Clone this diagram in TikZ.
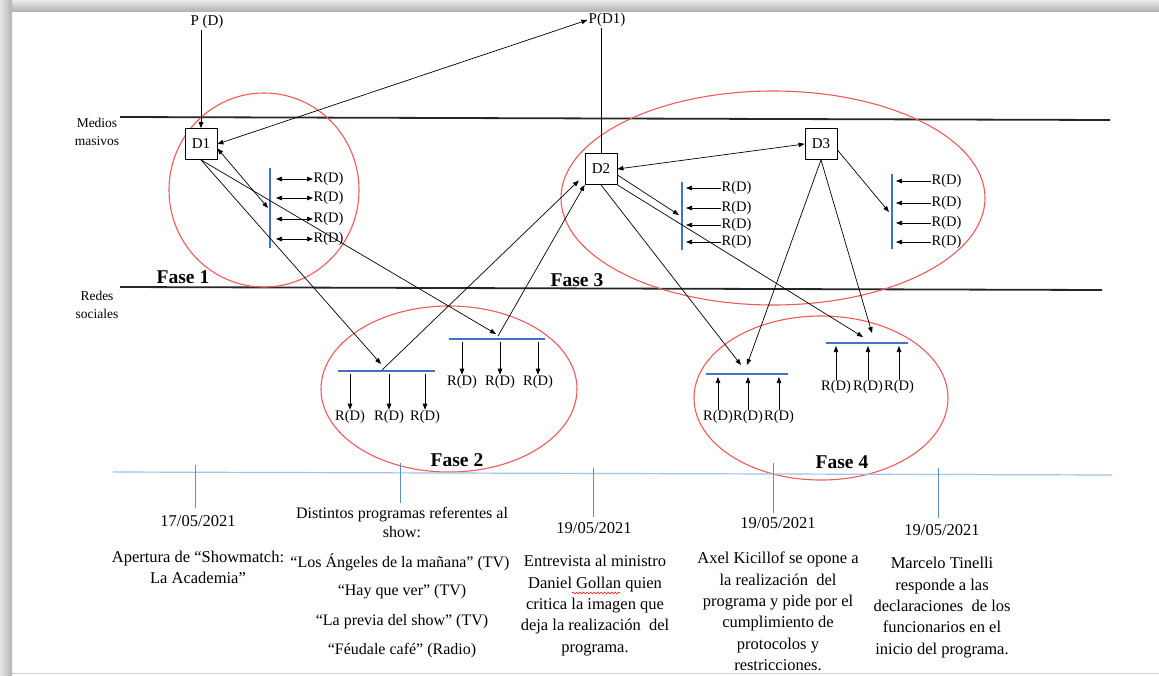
\documentclass[tikz,border=0pt]{standalone}
\usepackage{fontspec}
\setmainfont{Liberation Serif}
\usetikzlibrary{arrows.meta,decorations.pathmorphing}
\definecolor{rb}{HTML}{F25A5A}
\definecolor{bl}{HTML}{4472C4}
\definecolor{tlb}{HTML}{9DC3E6}
\definecolor{tickc}{HTML}{5B8FD0}
\begin{document}
\begin{tikzpicture}[x=1pt,y=-1pt,
 arr/.style={line width=0.7pt,-{Triangle[length=6pt,width=4.5pt]}},
 darr/.style={line width=0.7pt,{Triangle[length=6pt,width=4.5pt]}-{Triangle[length=6pt,width=4.5pt]}},
 plainln/.style={line width=0.7pt},
 dbox/.style={draw,line width=0.8pt,minimum width=32pt,minimum height=31pt,inner sep=0pt,font=\fontsize{15}{15}\selectfont},
 rd/.style={inner sep=0.5pt,font=\fontsize{14.5}{14.5}\selectfont},
 ptext/.style={inner sep=1pt,font=\fontsize{15}{15}\selectfont},
 tl/.style={align=center,inner sep=0pt,font=\fontsize{16.5}{21.3}\selectfont},
 tls/.style={align=center,inner sep=0pt,font=\fontsize{16}{19}\selectfont},
 fase/.style={inner sep=0pt,font=\fontsize{19.5}{19.5}\selectfont\bfseries},
 side/.style={align=center,inner sep=0pt,font=\fontsize{13.5}{18}\selectfont},
 sep/.style={line width=1.8pt,black!85},
 bline/.style={line width=2.4pt,bl},
 phase/.style={line width=1.1pt,rb},
 tline/.style={line width=1.2pt,tlb},
 tick/.style={line width=1pt,tickc},
]
\useasboundingbox (0,0) rectangle (1159,675);
\fill[white] (0,0) rectangle (1159,675);
% frame
\shade[top color=gray!15,bottom color=gray!60] (0,0) rectangle (1159,11);
\shade[left color=gray!20,right color=gray!60] (0,0) rectangle (12,675);
\draw[gray!35,line width=1.5pt] (12,673.5) -- (1159,673.5);

% separators
\node[side] (medios) at (97,132) {Medios\\masivos};
\node[side] (redes) at (97,305) {Redes\\sociales};
\coordinate (s1a) at (120,117); \coordinate (s1b) at (1110,120);
\coordinate (s2a) at (120,287); \coordinate (s2b) at (1102,290);
\draw[sep] (s1a) -- (s1b);
\draw[sep] (s2a) -- (s2b);

% phase ellipses
\draw[phase] (264,190) ellipse [x radius=95, y radius=97];
\draw[phase] (449,389) ellipse [x radius=128, y radius=83];
\draw[phase] (773,198) ellipse [x radius=212, y radius=107];
\draw[phase] (821,398) ellipse [x radius=127, y radius=82];

\node[fase] (f1) at (183,277) {Fase 1};
\node[fase] (f2) at (457,460) {Fase 2};
\node[fase] (f3) at (577,280) {Fase 3};
\node[fase] (f4) at (842,462) {Fase 4};

% main nodes
\node[ptext] (PD) at (207,22) {P (D)};
\node[ptext] (PD1) at (607,20) {P(D1)};
\node[dbox,fill=white] (D1) at (201,144) {D1};
\node[dbox,fill=white] (D2) at (601,169) {D2};
\node[dbox,fill=white] (D3) at (821,144) {D3};

\draw[arr] (PD.south -| D1.north) -- (D1.north);
\draw[plainln] (PD1.south -| D2.north) -- (D2.north);
\draw[darr] (D1.east) -- (PD1.west);
\draw[darr] (D2.east) -- (D3.west);

% Fase 1 group
\coordinate (b1t) at (270,168); \coordinate (b1b) at (270,248);
\draw[bline] (b1t) -- (b1b);
\foreach \i/\y in {1/179,2/198,3/219,4/239}{
  \node[rd,anchor=west] (r1\i) at (313,\y) {R(D)};
  \coordinate (a1\i) at (276,\y);
  \draw[darr] (a1\i) -- (r1\i.west);
}
\coordinate (b1m) at (268,208);
\draw[darr] (D1.-15) -- (b1m);

% Fase 2 groups
\coordinate (b2l) at (338,371); \coordinate (b2r) at (435,371);
\draw[bline,line width=2pt] (b2l) -- (b2r);
\foreach \i/\x in {1/350,2/389,3/425}{
  \node[rd] (r2\i) at (\x,417) {R(D)};
  \coordinate (a2\i) at (\x,374);
  \draw[arr] (a2\i) -- (r2\i.north);
}
\coordinate (b3l) at (449,339); \coordinate (b3r) at (545,339);
\draw[bline,line width=2pt] (b3l) -- (b3r);
\foreach \i/\x in {1/462,2/500,3/538}{
  \node[rd] (r3\i) at (\x,382) {R(D)};
  \coordinate (a3\i) at (\x,342);
  \draw[arr] (a3\i) -- (r3\i.north);
}
\coordinate (t2l) at (381,364);
\coordinate (t2r) at (496,334);
\coordinate (o2l) at (382,370);
\coordinate (o2r) at (498,336);
\draw[arr] (D1.south) -- (t2l);
\draw[arr] (D1.south) -- (t2r);
\draw[arr,shorten >=8pt] (o2l) -- (D2.200);
\draw[arr] (o2r) -- (D2.south west);

% Fase 3 groups
\coordinate (b4t) at (682,182); \coordinate (b4b) at (682,250);
\draw[bline] (b4t) -- (b4b);
\foreach \i/\y in {1/188,2/208,3/225,4/242}{
  \node[rd,anchor=west] (r4\i) at (721,\y) {R(D)};
  \coordinate (a4\i) at (686,\y);
  \draw[arr] (r4\i.west) -- (a4\i);
}
\coordinate (b5t) at (892,174); \coordinate (b5b) at (892,249);
\draw[bline] (b5t) -- (b5b);
\foreach \i/\y in {1/181,2/203,3/223,4/242}{
  \node[rd,anchor=west] (r5\i) at (931,\y) {R(D)};
  \coordinate (a5\i) at (896,\y);
  \draw[arr] (r5\i.west) -- (a5\i);
}
\coordinate (b4m) at (679,215);
\coordinate (b5m) at (889,212);
\draw[arr] (D2.-20) -- (b4m);
\draw[arr] (D3.-20) -- (b5m);

% Fase 4 groups
\coordinate (b6l) at (706,374); \coordinate (b6r) at (788,374);
\draw[bline,line width=2pt] (b6l) -- (b6r);
\foreach \i/\x in {1/718,2/748,3/779}{
  \node[rd] (r6\i) at (\x,417) {R(D)};
  \coordinate (a6\i) at (\x,377);
  \draw[arr] (r6\i.north) -- (a6\i);
}
\coordinate (b7l) at (826,343); \coordinate (b7r) at (908,343);
\draw[bline,line width=2pt] (b7l) -- (b7r);
\foreach \i/\x in {1/836,2/868,3/899}{
  \node[rd] (r7\i) at (\x,387) {R(D)};
  \coordinate (a7\i) at (\x,346);
  \draw[arr] (r7\i.north) -- (a7\i);
}
\coordinate (t6a) at (741,365);
\coordinate (t6b) at (747,365);
\coordinate (t7a) at (863,337);
\coordinate (t7b) at (872,333);
\draw[arr] (D2.south) -- (t6a);
\draw[arr] (D3.south) -- (t6b);
\draw[arr] (D2.south east) -- (t7a);
\draw[arr] (D3.south) -- (t7b);

% timeline
\coordinate (tla) at (113,472); \coordinate (tlb) at (1112,475);
\draw[tline] (tla) -- (tlb);
\coordinate (k1a) at (195,465); \coordinate (k1b) at (195,508);
\coordinate (k2a) at (400,463); \coordinate (k2b) at (400,503);
\coordinate (k3a) at (593,468); \coordinate (k3b) at (593,517);
\coordinate (k4a) at (773,463); \coordinate (k4b) at (773,513);
\coordinate (k5a) at (938,468); \coordinate (k5b) at (938,518);
\foreach \k in {1,...,5}{ \draw[tick] (k\k a) -- (k\k b); }

\node[tl] (d1) at (198,521) {17/05/2021};
\node[tl] (e1) at (198,567) {Apertura de “Showmatch:\\La Academia”};

\node[tls] (d2) at (402,522.5) {Distintos programas referentes al\\show:};
\node[tls] (p1) at (400,562) {“Los Ángeles de la mañana” (TV)};
\node[tls] (p2) at (402,592) {“Hay que ver” (TV)};
\node[tls] (p3) at (402,622) {“La previa del show” (TV)};
\node[tls] (p4) at (402,651) {“Féudale café” (Radio)};

\node[tl] (d3) at (594,528) {19/05/2021};
\node[tl] (e3) at (595,605.5) {Entrevista al ministro\\Daniel Gollan quien\\critica la imagen que\\deja la realización\ \ del\\programa.};
\draw[red,line width=0.6pt,decorate,decoration={snake,segment length=3.5pt,amplitude=0.9pt}] (572,593) -- (620,593);

\node[tl] (d4) at (778,523) {19/05/2021};
\node[tl] (e4) at (778,611.5) {Axel Kicillof se opone a\\la realización\ \ del\\programa y pide por el\\cumplimiento de\\protocolos y\\restricciones.};

\node[tl] (d5) at (942,530) {19/05/2021};
\node[tl] (e5) at (942,607.5) {Marcelo Tinelli\\responde a las\\declaraciones\ \ de los\\funcionarios en el\\inicio del programa.};
\end{tikzpicture}
\end{document}
